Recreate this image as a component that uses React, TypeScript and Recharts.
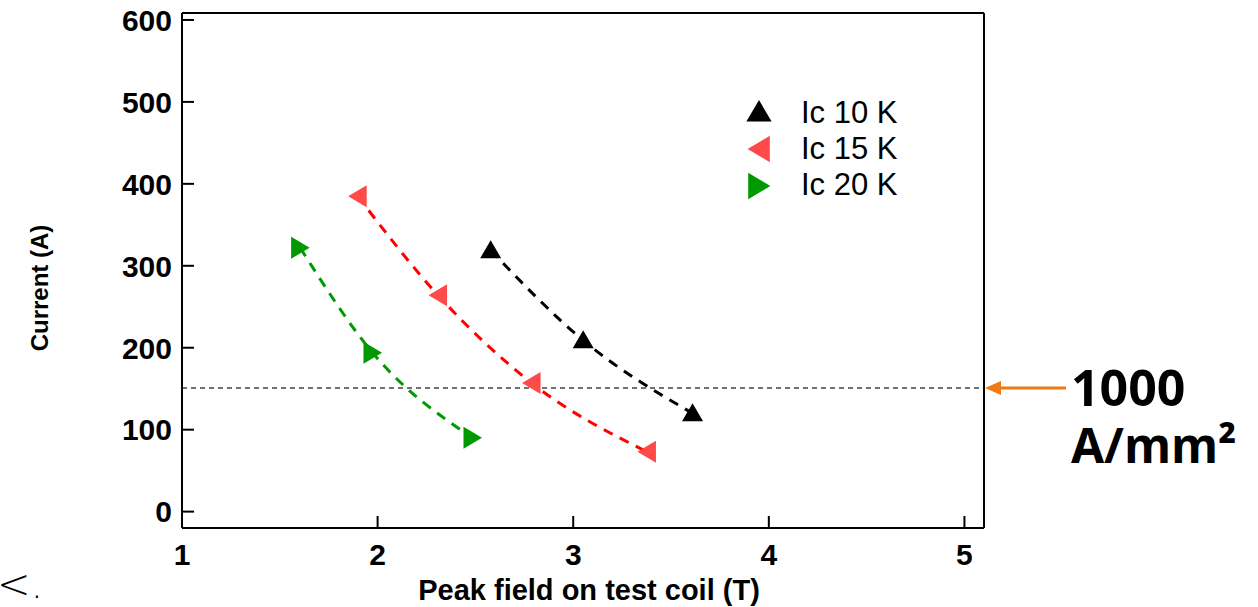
import React from 'react'
import {
  ComposedChart,
  Line,
  ReferenceLine,
  XAxis,
  YAxis,
} from 'recharts'

// Ic 10 K
const field10 = [2.578, 3.051, 3.61]
const current10 = [319, 209, 120]
// Ic 15 K
const field15 = [1.898, 2.309, 2.787, 3.377]
const current15 = [385, 264, 157, 73]
// Ic 20 K
const field20 = [1.604, 1.974, 2.485]
const current20 = [322, 194, 90]

const xTicks = [1, 2, 3, 4, 5]
const yTicks = [0, 100, 200, 300, 400, 500, 600]
const limitCurrent = 151

const font = 'Liberation Sans, Arial, sans-serif'

const toPoints = (xs: number[], ys: number[]) => xs.map((x, i) => ({ x, y: ys[i] }))

const series = [
  { name: 'Ic 10 K', data: toPoints(field10, current10), line: '#000000', fill: '#000000', dir: 'up' },
  { name: 'Ic 15 K', data: toPoints(field15, current15), line: '#ff0000', fill: '#ff4a4a', dir: 'left' },
  { name: 'Ic 20 K', data: toPoints(field20, current20), line: '#009900', fill: '#009900', dir: 'right' },
]

function triangle(cx: number, cy: number, dir: string, s = 1) {
  if (dir === 'up') {
    return `${cx},${cy - 10 * s} ${cx + 10.5 * s},${cy + 8 * s} ${cx - 10.5 * s},${cy + 8 * s}`
  }
  if (dir === 'left') {
    return `${cx - 9.5 * s},${cy} ${cx + 9 * s},${cy - 11 * s} ${cx + 9 * s},${cy + 11 * s}`
  }
  return `${cx + 9.5 * s},${cy} ${cx - 9 * s},${cy - 11 * s} ${cx - 9 * s},${cy + 11 * s}`
}

const makeDot = (dir: string, fill: string) => (props: any) => {
  const { cx, cy, index } = props
  if (cx == null || cy == null) return <g key={index} />
  return <polygon key={index} points={triangle(cx, cy, dir)} fill={fill} />
}

const XTick = (props: any) => (
  <text
    x={props.x}
    y={props.y}
    dy="0.72em"
    textAnchor="middle"
    fontSize={30}
    fontWeight="bold"
    fontFamily={font}
    fill="#000"
  >
    {props.payload.value}
  </text>
)

const YTick = (props: any) => (
  <text
    x={props.x}
    y={props.y}
    dy="0.36em"
    textAnchor="end"
    fontSize={30}
    fontWeight="bold"
    fontFamily={font}
    fill="#000"
  >
    {props.payload.value}
  </text>
)

export default function App() {
  return (
    <div style={{ position: 'absolute', left: 0, top: 0, background: '#fff' }}>
      <ComposedChart
        width={1258}
        height={607}
        margin={{ top: 12, right: 273, bottom: 0, left: 0 }}
      >
        <XAxis
          xAxisId="bottom"
          dataKey="x"
          type="number"
          domain={[1, 5.1]}
          ticks={xTicks}
          allowDataOverflow
          orientation="bottom"
          height={79}
          tickSize={-12}
          tickMargin={27}
          tick={XTick}
          stroke="#000"
          strokeWidth={2}
        />
        <XAxis
          xAxisId="top"
          dataKey="x"
          type="number"
          domain={[1, 5.1]}
          ticks={xTicks}
          allowDataOverflow
          orientation="top"
          height={1}
          tickSize={-12}
          tick={false}
          stroke="#000"
          strokeWidth={2}
        />
        <YAxis
          yAxisId="left"
          type="number"
          domain={[-20, 608.5]}
          ticks={yTicks}
          allowDataOverflow
          orientation="left"
          width={182}
          tickSize={-12}
          tickMargin={22}
          tick={YTick}
          stroke="#000"
          strokeWidth={2}
        />
        <YAxis
          yAxisId="right"
          type="number"
          domain={[-20, 608.5]}
          ticks={yTicks}
          allowDataOverflow
          orientation="right"
          width={1}
          tickSize={-12}
          tick={false}
          stroke="#000"
          strokeWidth={2}
        />

        <ReferenceLine
          xAxisId="bottom"
          yAxisId="left"
          y={limitCurrent}
          stroke="#444"
          strokeWidth={1.5}
          strokeDasharray="5 4"
        />

        {series.map(s => (
          <Line
            key={s.name}
            xAxisId="bottom"
            yAxisId="left"
            data={s.data}
            dataKey="y"
            name={s.name}
            type="monotone"
            stroke={s.line}
            strokeWidth={3}
            strokeDasharray="10 8"
            dot={makeDot(s.dir, s.fill)}
            activeDot={false}
            isAnimationActive={false}
          />
        ))}

        {/* legend */}
        {series.map((s, i) => (
          <g key={'lg' + i}>
            <polygon
              points={triangle(759, 112 + i * 37, s.dir, 1.2)}
              fill={s.fill}
            />
            <text
              x={801}
              y={123 + i * 36}
              fontSize={31}
              fontFamily={font}
              fill="#000"
            >
              {s.name}
            </text>
          </g>
        ))}

        {/* axis titles */}
        <text
          x={589}
          y={600}
          textAnchor="middle"
          fontSize={29}
          fontWeight="bold"
          fontFamily={font}
          fill="#000"
        >
          Peak field on test coil (T)
        </text>
        <text
          x={39}
          y={288}
          dy="0.36em"
          textAnchor="middle"
          transform="rotate(-90, 39, 288)"
          fontSize={24}
          fontWeight="bold"
          fontFamily={font}
          fill="#000"
        >
          Current (A)
        </text>

        {/* annotation */}
        <line x1={1066} y1={388} x2={999} y2={388} stroke="#ee7b12" strokeWidth={3} />
        <polygon points="985,388 1001,381 1001,395" fill="#ee7b12" />
        <text
          x={1071}
          y={406}
          fontSize={50}
          fontWeight={700}
          fontFamily="Open Sans, sans-serif"
          fill="#000"
        >
          1000
        </text>
        <text
          x={1071}
          y={463}
          fontSize={48}
          fontWeight={700}
          fontFamily="Open Sans, sans-serif"
          fill="#000"
        >
          A/mm²
        </text>
        <text x={-3} y={598} fontSize={40} fontFamily="DejaVu Sans" fontWeight={200} fill="#000">
          &lt;.
        </text>
      </ComposedChart>
    </div>
  )
}
